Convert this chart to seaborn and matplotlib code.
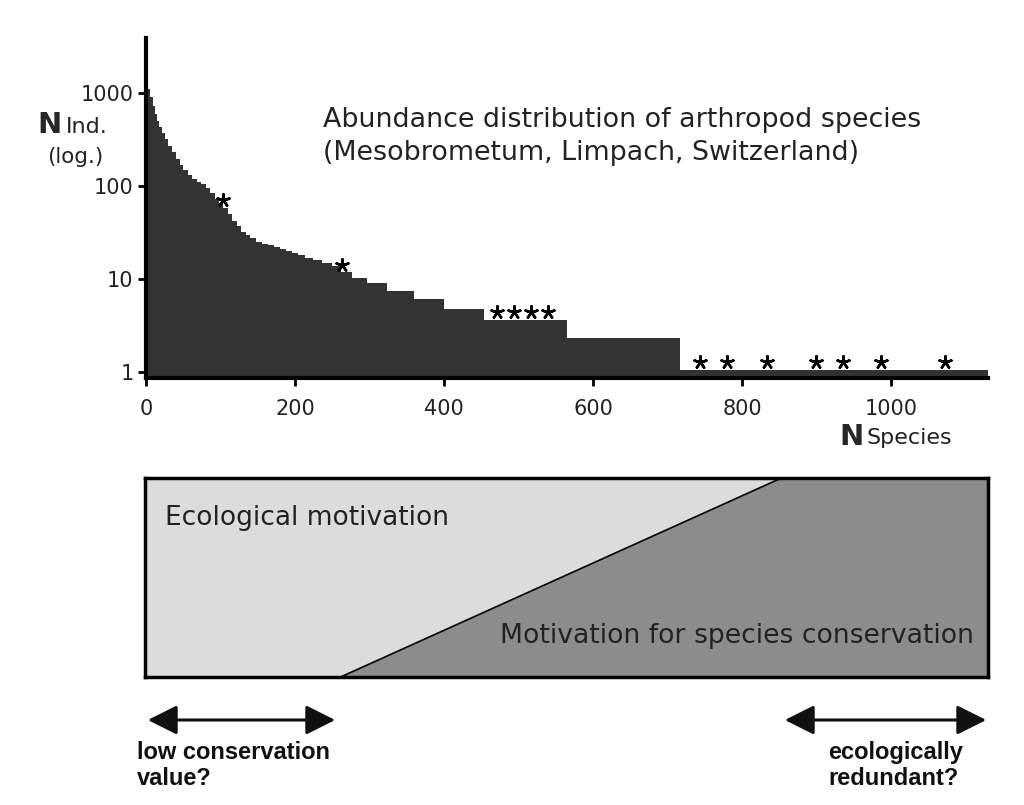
import numpy as np
import pandas as pd
import matplotlib
matplotlib.use("Agg")
import matplotlib.pyplot as plt
import seaborn as sns
from matplotlib.patches import Polygon, FancyArrowPatch

# -----------------------
# DATOS
# -----------------------
# rango de inicio de cada escalón y número de individuos
rank_start = [0, 3, 6, 9, 12, 15, 18, 21, 25, 30, 35, 40, 45, 50, 56, 62, 68, 74,
              80, 86, 92, 98, 104, 110, 116, 122, 128, 134, 140, 148, 156, 164,
              172, 180, 188, 196, 204, 214, 224, 236, 250, 262, 277, 297, 324,
              359, 400, 453, 565, 717]
abundance = [1380, 1100, 900, 720, 600, 500, 430, 370, 320, 270, 230, 195, 170,
             150, 130, 118, 110, 104, 95, 84, 72, 66, 58, 50, 42, 37, 32, 30,
             27.5, 25, 24, 23, 22, 21, 20, 19, 18, 17, 16, 15, 13.8, 11.9, 10.2,
             9.0, 7.4, 6.1, 4.75, 3.6, 2.3, 1.05]
n_species = 1130

# especies marcadas con asterisco
star_rank = [103, 263, 471, 494, 517, 540, 744, 780, 834, 899, 936, 986, 1072]
star_n = [70, 14.1, 4.4, 4.4, 4.4, 4.4, 1.28, 1.28, 1.28, 1.28, 1.28, 1.28, 1.28]

y_ticks = [1, 10, 100, 1000]
x_ticks = [0, 200, 400, 600, 800, 1000]

df = pd.DataFrame({"rank": rank_start + [n_species],
                   "n": abundance + [abundance[-1]]})
df_star = pd.DataFrame({"rank": star_rank, "n": star_n})

# -----------------------
# ESTILO
# -----------------------
sns.set_style("ticks")
plt.rcParams["font.family"] = ["DejaVu Sans"]
txt_col = "#222222"

fig = plt.figure(figsize=(10.24, 8.05), dpi=100)

# -----------------------
# GRÁFICO SUPERIOR: distribución de abundancia
# -----------------------
ax = fig.add_axes([146 / 1024, 1 - 378 / 805, 842 / 1024, 340 / 805])
ax.fill_between(df["rank"], df["n"], 0.5, step="post", color="#333333", lw=0)
sns.scatterplot(data=df_star, x="rank", y="n", marker=(5, 2, 0), s=80,
                color="black", linewidth=1.8, ax=ax, zorder=5)
ax.set_yscale("log")
ax.set_xlim(0, n_species)
ax.set_ylim(0.862, 3900)
ax.set_yticks(y_ticks)
ax.set_yticklabels([str(v) for v in y_ticks])
ax.minorticks_off()
ax.set_xticks(x_ticks)
ax.set_xlabel("")
ax.set_ylabel("")
sns.despine(ax=ax)
for s in ["left", "bottom"]:
    ax.spines[s].set_linewidth(3)
    ax.spines[s].set_color("black")
ax.tick_params(axis="both", length=6, width=2, color="black",
               labelsize=15, labelcolor=txt_col)
ax.tick_params(axis="x", pad=9)
ax.tick_params(axis="y", pad=3)

# etiquetas de los ejes
fig.text(37 / 1024, 1 - 125 / 805, "N", fontsize=21, fontweight="bold",
         va="center", ha="left")
fig.text(66 / 1024, 1 - 127 / 805, "Ind.", fontsize=16, va="center", ha="left",
         color=txt_col)
fig.text(75 / 1024, 1 - 157 / 805, "(log.)", fontsize=15.5, va="center",
         ha="center", color=txt_col)
fig.text(839 / 1024, 1 - 437 / 805, "N", fontsize=21, fontweight="bold",
         va="center", ha="left")
fig.text(867 / 1024, 1 - 438 / 805, "Species", fontsize=16, va="center",
         ha="left", color=txt_col)

fig.text(323 / 1024, 1 - 120 / 805, "Abundance distribution of arthropod species",
         fontsize=19.4, va="center", ha="left", color=txt_col)
fig.text(323 / 1024, 1 - 153 / 805, "(Mesobrometum, Limpach, Switzerland)",
         fontsize=19.4, va="center", ha="left", color=txt_col)

# -----------------------
# GRÁFICO INFERIOR: motivación
# -----------------------
ax2 = fig.add_axes([145 / 1024, 1 - 677 / 805, 843 / 1024, 199 / 805])
ax2.set_xlim(0, 1)
ax2.set_ylim(0, 1)
x_low, x_high = 0.232, 0.755
ax2.add_patch(Polygon([(0, 0), (x_low, 0), (x_high, 1), (0, 1)],
                      closed=True, facecolor="#dcdcdc", edgecolor="none"))
ax2.add_patch(Polygon([(x_low, 0), (1, 0), (1, 1), (x_high, 1)],
                      closed=True, facecolor="#8c8c8c", edgecolor="none"))
ax2.plot([x_low, x_high], [0, 1], color="black", lw=1.2)
ax2.set_xticks([])
ax2.set_yticks([])
for s in ax2.spines.values():
    s.set_visible(True)
    s.set_color("black")
    s.set_linewidth(2.5)
ax2.text(0.024, 0.8, "Ecological motivation", fontsize=19, va="center",
         ha="left", color=txt_col, transform=ax2.transAxes)
ax2.text(0.983, 0.205, "Motivation for species conservation", fontsize=19.2,
         va="center", ha="right", color=txt_col, transform=ax2.transAxes)

# flechas
for x0, x1 in [(145, 338), (782, 989)]:
    fig.add_artist(FancyArrowPatch(
        (x0 / 1024, 1 - 720 / 805), (x1 / 1024, 1 - 720 / 805),
        transform=fig.transFigure,
        arrowstyle="<|-|>,head_length=0.9,head_width=0.45",
        mutation_scale=20, color="#111111", lw=2.2))

fig.text(137 / 1024, 1 - 741 / 805, "low conservation\nvalue?", fontsize=17,
         fontweight="bold", va="top", ha="left", linespacing=1.15,
         family=["Liberation Sans"], color="#111111")
fig.text(828 / 1024, 1 - 741 / 805, "ecologically\nredundant?", fontsize=17,
         fontweight="bold", va="top", ha="left", linespacing=1.15,
         family=["Liberation Sans"], color="#111111")

plt.savefig("out.png", dpi=100)
